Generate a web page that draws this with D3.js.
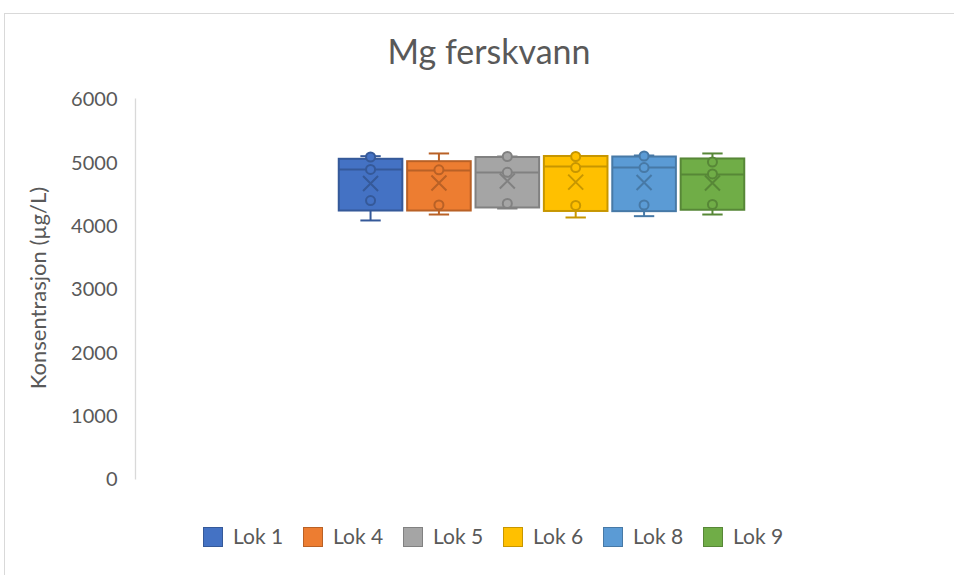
<!DOCTYPE html>
<html>
<head>
<meta charset="utf-8">
<script src="https://cdn.jsdelivr.net/npm/d3@7"></script>
<style>
  html, body { margin: 0; padding: 0; background: #fff; }
  svg { display: block; }
  text { font-family: Lato, "Open Sans", sans-serif; fill: #595959; }
</style>
</head>
<body>
<svg id="chart" width="954" height="575"></svg>
<script>
// ---- data ----
const title = "Mg ferskvann";
const yLabel = "Konsentrasjon (µg/L)";
const series = ["Lok 1", "Lok 4", "Lok 5", "Lok 6", "Lok 8", "Lok 9"];
const colors = ["#4472C4", "#ED7D31", "#A5A5A5", "#FFC000", "#5B9BD5", "#70AD47"];
const minV   = [4090, 4184, 4279, 4137, 4158, 4184];
const q1V    = [4247, 4247, 4295, 4240, 4237, 4259];
const medV   = [4895, 4879, 4847, 4942, 4926, 4816];
const q3V    = [5064, 5026, 5092, 5108, 5100, 5069];
const maxV   = [5105, 5148, 5100, 5108, 5116, 5148];
const meanV  = [4674, 4682, 4713, 4695, 4690, 4682];
const innerPoints = [
  [5092, 4895, 4405],
  [4890, 4334],
  [5100, 4850, 4358],
  [5100, 4926, 4327],
  [5108, 4926, 4334],
  [5013, 4824, 4342]
];
const yTicks = [0, 1000, 2000, 3000, 4000, 5000, 6000];
const categories = ["Mg"];

// ---- layout ----
const svg = d3.select("#chart");
const plot = { left: 136, right: 947, top: 99.5, bottom: 479.5 };

// chart frame
svg.append("rect")
  .attr("x", 4.5).attr("y", 13.5)
  .attr("width", 1000).attr("height", 700)
  .attr("fill", "#fff").attr("stroke", "#d9d9d9").attr("stroke-width", 1);

const y = d3.scaleLinear().domain([0, 6000]).range([plot.bottom, plot.top]);
const xCat = d3.scaleBand().domain(categories).range([plot.left, plot.right])
  .paddingInner(0).paddingOuter(0.5);
const xSer = d3.scaleBand().domain(series).range([0, xCat.bandwidth()])
  .paddingInner(0.07).paddingOuter(0);

// title
svg.append("text")
  .attr("x", 489).attr("y", 64)
  .attr("text-anchor", "middle")
  .style("font-size", "34px")
  .text(title);

// y axis
const yAxis = d3.axisLeft(y).tickValues(yTicks).tickSize(0).tickPadding(18)
  .tickFormat(d3.format("d"));
const gy = svg.append("g").attr("transform", `translate(${plot.left - 0.5},0)`).call(yAxis);
gy.select(".domain").attr("stroke", "#d9d9d9").attr("stroke-width", 1.3)
  .attr("d", `M0,${y(6000) - 1}V${y(0)}`);
gy.selectAll("text")
  .style("font-size", "20px")
  .style("font-family", "Lato, 'Open Sans', sans-serif")
  .attr("fill", "#595959");

// y label
svg.append("text")
  .attr("transform", `translate(46,288) rotate(-90)`)
  .attr("text-anchor", "middle")
  .style("font-size", "22px")
  .text(yLabel);

// boxes
const g = svg.append("g").attr("transform", `translate(${xCat("Mg")},0)`);
series.forEach((s, i) => {
  const c = colors[i];
  const dark = d3.color(c).darker(0.7).formatHex();
  const x0 = xSer(s);
  const w = xSer.bandwidth();
  const cx = x0 + w / 2;
  const capW = w * 0.32;
  const sg = g.append("g");
  // whiskers
  sg.append("line").attr("x1", cx).attr("x2", cx)
    .attr("y1", y(maxV[i])).attr("y2", y(q3V[i]))
    .attr("stroke", dark).attr("stroke-width", 2);
  sg.append("line").attr("x1", cx).attr("x2", cx)
    .attr("y1", y(q1V[i])).attr("y2", y(minV[i]))
    .attr("stroke", dark).attr("stroke-width", 2);
  sg.append("line").attr("x1", cx - capW / 2).attr("x2", cx + capW / 2)
    .attr("y1", y(maxV[i])).attr("y2", y(maxV[i]))
    .attr("stroke", dark).attr("stroke-width", 2);
  sg.append("line").attr("x1", cx - capW / 2).attr("x2", cx + capW / 2)
    .attr("y1", y(minV[i])).attr("y2", y(minV[i]))
    .attr("stroke", dark).attr("stroke-width", 2);
  // box
  sg.append("rect")
    .attr("x", x0).attr("y", y(q3V[i]))
    .attr("width", w).attr("height", y(q1V[i]) - y(q3V[i]))
    .attr("fill", c).attr("stroke", dark).attr("stroke-width", 2);
  // median
  sg.append("line").attr("x1", x0).attr("x2", x0 + w)
    .attr("y1", y(medV[i])).attr("y2", y(medV[i]))
    .attr("stroke", dark).attr("stroke-width", 2);
  // inner points
  innerPoints[i].forEach(v => {
    sg.append("circle").attr("cx", cx).attr("cy", y(v)).attr("r", 4.5)
      .attr("fill", c).attr("stroke", dark).attr("stroke-width", 2);
  });
  // mean marker (x)
  const my = y(meanV[i]), m = 7.5;
  sg.append("path")
    .attr("d", `M${cx - m},${my - m}L${cx + m},${my + m}M${cx - m},${my + m}L${cx + m},${my - m}`)
    .attr("stroke", dark).attr("stroke-width", 2).attr("fill", "none");
});

// legend
const legend = svg.append("g").attr("transform", "translate(203,527)");
series.forEach((s, i) => {
  const lg = legend.append("g").attr("transform", `translate(${i * 100},0)`);
  lg.append("rect").attr("x", 0.5).attr("y", 0.5).attr("width", 19).attr("height", 19)
    .attr("fill", colors[i]).attr("stroke", d3.color(colors[i]).darker(0.7).formatHex())
    .attr("stroke-width", 1);
  lg.append("text").attr("x", 30).attr("y", 17)
    .style("font-size", "21px")
    .text(s);
});
</script>
</body>
</html>
